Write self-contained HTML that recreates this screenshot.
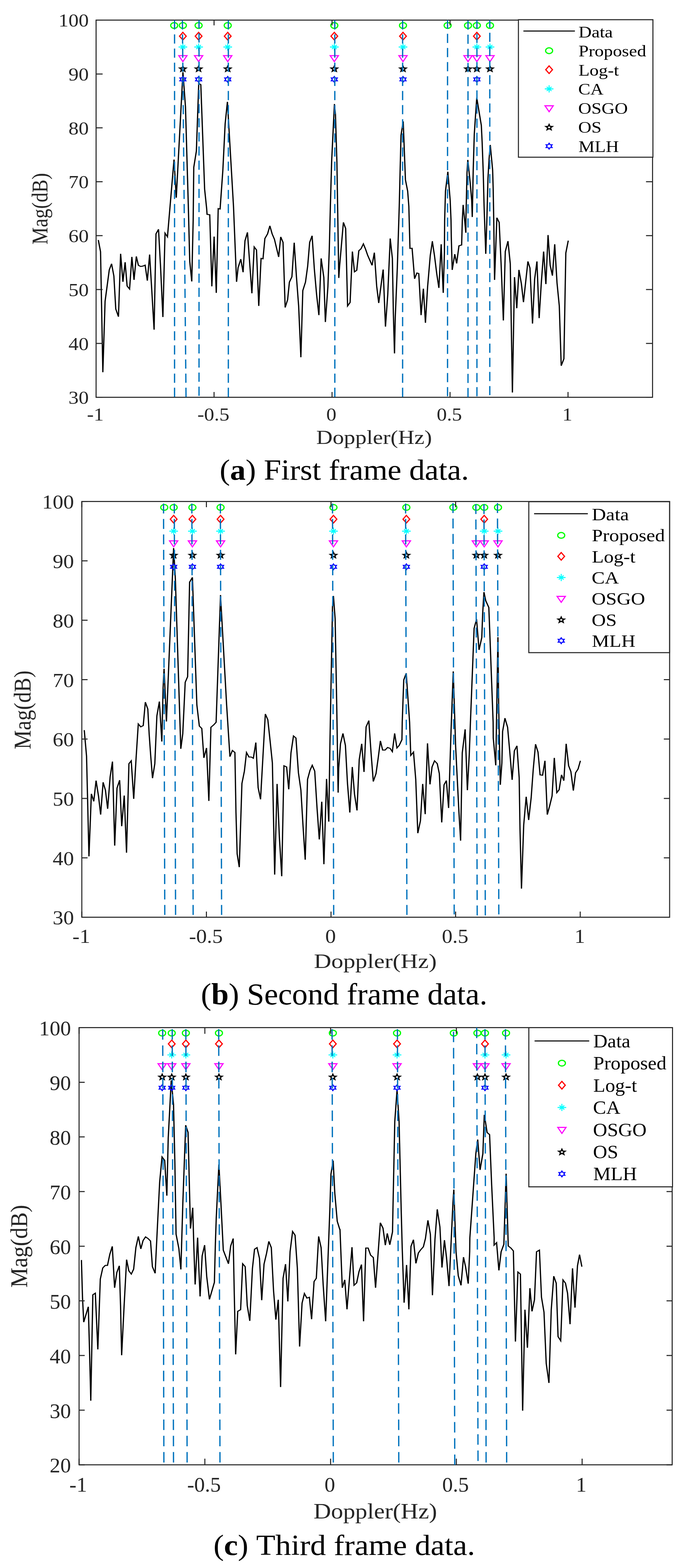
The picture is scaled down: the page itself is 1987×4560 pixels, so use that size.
<!DOCTYPE html>
<html><head><meta charset="utf-8"><title>Doppler spectrum detection results</title>
<style>
html,body{margin:0;padding:0;background:#fff;}
svg{display:block;}
text{font-family:"Liberation Serif",serif;font-kerning:none;font-variant-ligatures:none;}
</style></head>
<body>
<svg xmlns="http://www.w3.org/2000/svg" width="1987" height="4560" viewBox="0 0 1987 4560">
<rect x="0" y="0" width="1987" height="4560" fill="#fff"/>
<path transform="scale(1.22,1)" d="M234.43,698.0 L239.75,732.1 L245.25,1082.4 L250.57,876.3 L260.57,784.9 L266.07,767.1 L271.56,802.8 L276.07,898.6 L282.46,920.9 L287.62,738.1 L293.11,819.5 L298.36,762.7 L303.11,831.7 L309.02,840.6 L314.43,747.1 L319.59,813.9 L325.08,745.9 L330.00,771.6 L335.49,774.9 L340.90,773.8 L346.07,771.1 L351.31,816.1 L356.80,740.4 L361.97,845.1 L367.46,958.7 L371.97,680.2 L378.03,666.8 L382.95,778.3 L388.44,922.0 L393.52,678.0 L399.34,688.7 L415.00,464.1 L420.33,575.0 L436.23,210.0 L442.30,311.0 L449.10,600.0 L452.46,760.0 L457.30,818.4 L460.66,640.0 L462.05,486.9 L468.28,439.1 L473.93,242.7 L478.85,246.1 L487.95,550.1 L492.79,606.5 L493.77,623.4 L500.16,624.5 L505.16,832.8 L510.57,688.0 L515.74,851.8 L520.33,606.7 L524.84,607.8 L531.39,495.6 L536.89,360.0 L542.30,296.2 L556.80,600.0 L564.10,819.5 L567.79,778.3 L574.18,753.7 L579.67,791.6 L584.18,700.3 L590.08,675.8 L600.66,852.9 L606.15,718.1 L611.64,727.0 L617.05,889.7 L622.54,751.5 L627.13,752.6 L631.64,693.6 L638.03,680.2 L643.52,656.8 L648.93,680.2 L654.43,695.8 L664.51,747.1 L669.43,689.1 L674.92,704.7 L680.00,894.1 L685.82,871.8 L690.08,820.6 L696.07,805.0 L701.56,705.8 L706.89,805.0 L712.13,889.7 L717.46,1038.9 L722.05,845.1 L728.44,820.6 L733.69,773.8 L738.44,704.7 L744.26,685.8 L749.59,782.7 L754.92,856.2 L760.41,916.4 L765.82,751.5 L772.21,807.2 L775.90,936.5 L781.89,834.0 L785.25,724.8 L787.79,600.0 L790.82,470.0 L797.46,302.5 L799.92,333.3 L803.36,470.0 L805.08,600.0 L807.87,808.3 L809.67,776.0 L818.85,646.8 L824.26,664.6 L828.85,889.7 L834.84,879.6 L840.33,731.5 L845.25,790.5 L850.74,786.1 L855.66,729.2 L860.74,723.7 L866.56,709.2 L871.72,724.8 L876.80,742.6 L887.21,771.6 L892.70,734.8 L898.20,831.7 L903.11,881.2 L908.20,834.0 L913.69,783.8 L919.18,949.8 L924.67,856.2 L930.49,693.6 L935.66,751.5 L938.03,911.9 L940.74,1027.8 L942.54,923.1 L947.46,778.3 L952.05,600.0 L956.23,393.6 L961.48,353.0 L966.80,522.9 L972.13,556.0 L974.92,600.0 L977.62,722.5 L982.70,722.1 L988.61,810.6 L994.10,793.9 L998.61,795.6 L1004.10,916.4 L1009.59,839.5 L1014.51,938.7 L1019.67,834.0 L1026.07,742.6 L1030.98,702.5 L1030.90,701.4 L1035.98,742.6 L1041.48,796.1 L1046.56,837.3 L1052.05,710.3 L1054.26,778.3 L1056.97,851.8 L1059.75,733.7 L1060.33,640.1 L1062.30,555.7 L1067.95,499.5 L1073.52,583.0 L1075.49,640.1 L1076.15,689.1 L1078.36,784.9 L1084.43,739.3 L1088.93,766.0 L1094.43,714.8 L1100.82,712.5 L1102.46,640.1 L1104.43,595.8 L1107.05,627.9 L1110.90,676.9 L1110.98,640.1 L1113.61,502.7 L1115.57,465.0 L1121.48,534.8 L1124.84,583.0 L1126.15,631.1 L1128.44,494.7 L1130.98,390.4 L1134.02,334.3 L1136.89,284.5 L1147.79,364.8 L1149.75,414.5 L1152.38,502.7 L1154.34,599.0 L1158.36,738.1 L1160.98,640.1 L1163.61,518.8 L1166.23,462.6 L1169.10,421.7 L1174.75,494.7 L1176.07,550.9 L1177.38,640.1 L1179.34,813.9 L1184.84,633.4 L1190.33,646.8 L1194.92,767.1 L1200.33,932.0 L1204.92,731.5 L1211.31,701.4 L1216.80,767.1 L1221.89,1141.4 L1226.89,806.1 L1232.30,896.3 L1237.46,784.9 L1243.28,825.0 L1248.28,878.5 L1258.85,760.4 L1263.77,779.4 L1269.84,940.9 L1274.92,811.7 L1280.41,760.4 L1285.66,925.3 L1290.82,822.8 L1296.31,731.5 L1301.72,826.2 L1306.89,683.6 L1311.97,771.6 L1317.30,801.6 L1322.79,710.3 L1328.28,822.8 L1333.69,889.7 L1338.28,1063.5 L1344.67,1043.4 L1349.26,735.9 L1355.08,699.8" fill="none" stroke="#000" stroke-width="2.95" stroke-linejoin="miter" stroke-miterlimit="4"/>
<g transform="translate(506.8,74.12)"><ellipse cx="0" cy="0" rx="10.2" ry="8.4" fill="none" stroke="#00FF00" stroke-width="3.5"/></g>
<g transform="translate(532,74.12)"><ellipse cx="0" cy="0" rx="10.2" ry="8.4" fill="none" stroke="#00FF00" stroke-width="3.5"/></g>
<g transform="translate(532,105.46)"><polygon points="0,-11.4 9.8,-0.3 0,10.8 -9.8,-0.3" fill="none" stroke="#FF0000" stroke-width="3.4" stroke-linejoin="miter"/></g>
<g transform="translate(532,168.15)"><polygon points="-12.0,-6.4 12.0,-6.4 0,11" fill="none" stroke="#FF00FF" stroke-width="3.2" stroke-linejoin="miter" stroke-miterlimit="10"/></g>
<g transform="translate(532,136.8)"><path d="M-12.6,0H12.6M0,-10.4V10.4M-7.0,-5.9L7.0,5.9M-7.0,5.9L7.0,-5.9" fill="none" stroke="#00FFFF" stroke-width="2.9"/></g>
<g transform="translate(532,199.49)"><path d="M0.00,-11.80 L3.82,-3.45 L14.36,-2.96 L6.18,2.70 L8.88,11.36 L0.00,6.50 L-8.88,11.36 L-6.18,2.70 L-14.36,-2.96 L-3.82,-3.45Z M0.00,-3.10 L1.34,-0.74 L4.45,-0.41 L2.17,1.39 L2.75,3.96 L0.00,2.70 L-2.75,3.96 L-2.17,1.39 L-4.45,-0.41 L-1.34,-0.74Z" fill="#000" fill-rule="evenodd"/></g>
<g transform="translate(532,230.83)"><path d="M0.00,-11.20 L3.88,-5.60 L11.64,-5.60 L7.76,0.00 L11.64,5.60 L3.88,5.60 L0.00,11.20 L-3.88,5.60 L-11.64,5.60 L-7.76,0.00 L-11.64,-5.60 L-3.88,-5.60Z M0.00,-5.60 L1.94,-2.80 L5.82,-2.80 L3.88,0.00 L5.82,2.80 L1.94,2.80 L0.00,5.60 L-1.94,2.80 L-5.82,2.80 L-3.88,0.00 L-5.82,-2.80 L-1.94,-2.80Z" fill="#0000FF" fill-rule="evenodd"/></g>
<g transform="translate(577.8,74.12)"><ellipse cx="0" cy="0" rx="10.2" ry="8.4" fill="none" stroke="#00FF00" stroke-width="3.5"/></g>
<g transform="translate(577.8,105.46)"><polygon points="0,-11.4 9.8,-0.3 0,10.8 -9.8,-0.3" fill="none" stroke="#FF0000" stroke-width="3.4" stroke-linejoin="miter"/></g>
<g transform="translate(577.8,168.15)"><polygon points="-12.0,-6.4 12.0,-6.4 0,11" fill="none" stroke="#FF00FF" stroke-width="3.2" stroke-linejoin="miter" stroke-miterlimit="10"/></g>
<g transform="translate(577.8,136.8)"><path d="M-12.6,0H12.6M0,-10.4V10.4M-7.0,-5.9L7.0,5.9M-7.0,5.9L7.0,-5.9" fill="none" stroke="#00FFFF" stroke-width="2.9"/></g>
<g transform="translate(577.8,199.49)"><path d="M0.00,-11.80 L3.82,-3.45 L14.36,-2.96 L6.18,2.70 L8.88,11.36 L0.00,6.50 L-8.88,11.36 L-6.18,2.70 L-14.36,-2.96 L-3.82,-3.45Z M0.00,-3.10 L1.34,-0.74 L4.45,-0.41 L2.17,1.39 L2.75,3.96 L0.00,2.70 L-2.75,3.96 L-2.17,1.39 L-4.45,-0.41 L-1.34,-0.74Z" fill="#000" fill-rule="evenodd"/></g>
<g transform="translate(577.8,230.83)"><path d="M0.00,-11.20 L3.88,-5.60 L11.64,-5.60 L7.76,0.00 L11.64,5.60 L3.88,5.60 L0.00,11.20 L-3.88,5.60 L-11.64,5.60 L-7.76,0.00 L-11.64,-5.60 L-3.88,-5.60Z M0.00,-5.60 L1.94,-2.80 L5.82,-2.80 L3.88,0.00 L5.82,2.80 L1.94,2.80 L0.00,5.60 L-1.94,2.80 L-5.82,2.80 L-3.88,0.00 L-5.82,-2.80 L-1.94,-2.80Z" fill="#0000FF" fill-rule="evenodd"/></g>
<g transform="translate(662.5,74.12)"><ellipse cx="0" cy="0" rx="10.2" ry="8.4" fill="none" stroke="#00FF00" stroke-width="3.5"/></g>
<g transform="translate(662.5,105.46)"><polygon points="0,-11.4 9.8,-0.3 0,10.8 -9.8,-0.3" fill="none" stroke="#FF0000" stroke-width="3.4" stroke-linejoin="miter"/></g>
<g transform="translate(662.5,168.15)"><polygon points="-12.0,-6.4 12.0,-6.4 0,11" fill="none" stroke="#FF00FF" stroke-width="3.2" stroke-linejoin="miter" stroke-miterlimit="10"/></g>
<g transform="translate(662.5,136.8)"><path d="M-12.6,0H12.6M0,-10.4V10.4M-7.0,-5.9L7.0,5.9M-7.0,5.9L7.0,-5.9" fill="none" stroke="#00FFFF" stroke-width="2.9"/></g>
<g transform="translate(662.5,199.49)"><path d="M0.00,-11.80 L3.82,-3.45 L14.36,-2.96 L6.18,2.70 L8.88,11.36 L0.00,6.50 L-8.88,11.36 L-6.18,2.70 L-14.36,-2.96 L-3.82,-3.45Z M0.00,-3.10 L1.34,-0.74 L4.45,-0.41 L2.17,1.39 L2.75,3.96 L0.00,2.70 L-2.75,3.96 L-2.17,1.39 L-4.45,-0.41 L-1.34,-0.74Z" fill="#000" fill-rule="evenodd"/></g>
<g transform="translate(662.5,230.83)"><path d="M0.00,-11.20 L3.88,-5.60 L11.64,-5.60 L7.76,0.00 L11.64,5.60 L3.88,5.60 L0.00,11.20 L-3.88,5.60 L-11.64,5.60 L-7.76,0.00 L-11.64,-5.60 L-3.88,-5.60Z M0.00,-5.60 L1.94,-2.80 L5.82,-2.80 L3.88,0.00 L5.82,2.80 L1.94,2.80 L0.00,5.60 L-1.94,2.80 L-5.82,2.80 L-3.88,0.00 L-5.82,-2.80 L-1.94,-2.80Z" fill="#0000FF" fill-rule="evenodd"/></g>
<g transform="translate(972.6,74.12)"><ellipse cx="0" cy="0" rx="10.2" ry="8.4" fill="none" stroke="#00FF00" stroke-width="3.5"/></g>
<g transform="translate(972.6,105.46)"><polygon points="0,-11.4 9.8,-0.3 0,10.8 -9.8,-0.3" fill="none" stroke="#FF0000" stroke-width="3.4" stroke-linejoin="miter"/></g>
<g transform="translate(972.6,168.15)"><polygon points="-12.0,-6.4 12.0,-6.4 0,11" fill="none" stroke="#FF00FF" stroke-width="3.2" stroke-linejoin="miter" stroke-miterlimit="10"/></g>
<g transform="translate(972.6,136.8)"><path d="M-12.6,0H12.6M0,-10.4V10.4M-7.0,-5.9L7.0,5.9M-7.0,5.9L7.0,-5.9" fill="none" stroke="#00FFFF" stroke-width="2.9"/></g>
<g transform="translate(972.6,199.49)"><path d="M0.00,-11.80 L3.82,-3.45 L14.36,-2.96 L6.18,2.70 L8.88,11.36 L0.00,6.50 L-8.88,11.36 L-6.18,2.70 L-14.36,-2.96 L-3.82,-3.45Z M0.00,-3.10 L1.34,-0.74 L4.45,-0.41 L2.17,1.39 L2.75,3.96 L0.00,2.70 L-2.75,3.96 L-2.17,1.39 L-4.45,-0.41 L-1.34,-0.74Z" fill="#000" fill-rule="evenodd"/></g>
<g transform="translate(972.6,230.83)"><path d="M0.00,-11.20 L3.88,-5.60 L11.64,-5.60 L7.76,0.00 L11.64,5.60 L3.88,5.60 L0.00,11.20 L-3.88,5.60 L-11.64,5.60 L-7.76,0.00 L-11.64,-5.60 L-3.88,-5.60Z M0.00,-5.60 L1.94,-2.80 L5.82,-2.80 L3.88,0.00 L5.82,2.80 L1.94,2.80 L0.00,5.60 L-1.94,2.80 L-5.82,2.80 L-3.88,0.00 L-5.82,-2.80 L-1.94,-2.80Z" fill="#0000FF" fill-rule="evenodd"/></g>
<g transform="translate(1172.4,74.12)"><ellipse cx="0" cy="0" rx="10.2" ry="8.4" fill="none" stroke="#00FF00" stroke-width="3.5"/></g>
<g transform="translate(1172.4,105.46)"><polygon points="0,-11.4 9.8,-0.3 0,10.8 -9.8,-0.3" fill="none" stroke="#FF0000" stroke-width="3.4" stroke-linejoin="miter"/></g>
<g transform="translate(1172.4,168.15)"><polygon points="-12.0,-6.4 12.0,-6.4 0,11" fill="none" stroke="#FF00FF" stroke-width="3.2" stroke-linejoin="miter" stroke-miterlimit="10"/></g>
<g transform="translate(1172.4,136.8)"><path d="M-12.6,0H12.6M0,-10.4V10.4M-7.0,-5.9L7.0,5.9M-7.0,5.9L7.0,-5.9" fill="none" stroke="#00FFFF" stroke-width="2.9"/></g>
<g transform="translate(1172.4,199.49)"><path d="M0.00,-11.80 L3.82,-3.45 L14.36,-2.96 L6.18,2.70 L8.88,11.36 L0.00,6.50 L-8.88,11.36 L-6.18,2.70 L-14.36,-2.96 L-3.82,-3.45Z M0.00,-3.10 L1.34,-0.74 L4.45,-0.41 L2.17,1.39 L2.75,3.96 L0.00,2.70 L-2.75,3.96 L-2.17,1.39 L-4.45,-0.41 L-1.34,-0.74Z" fill="#000" fill-rule="evenodd"/></g>
<g transform="translate(1172.4,230.83)"><path d="M0.00,-11.20 L3.88,-5.60 L11.64,-5.60 L7.76,0.00 L11.64,5.60 L3.88,5.60 L0.00,11.20 L-3.88,5.60 L-11.64,5.60 L-7.76,0.00 L-11.64,-5.60 L-3.88,-5.60Z M0.00,-5.60 L1.94,-2.80 L5.82,-2.80 L3.88,0.00 L5.82,2.80 L1.94,2.80 L0.00,5.60 L-1.94,2.80 L-5.82,2.80 L-3.88,0.00 L-5.82,-2.80 L-1.94,-2.80Z" fill="#0000FF" fill-rule="evenodd"/></g>
<g transform="translate(1302.3,74.12)"><ellipse cx="0" cy="0" rx="10.2" ry="8.4" fill="none" stroke="#00FF00" stroke-width="3.5"/></g>
<g transform="translate(1361.6,74.12)"><ellipse cx="0" cy="0" rx="10.2" ry="8.4" fill="none" stroke="#00FF00" stroke-width="3.5"/></g>
<g transform="translate(1361.6,168.15)"><polygon points="-12.0,-6.4 12.0,-6.4 0,11" fill="none" stroke="#FF00FF" stroke-width="3.2" stroke-linejoin="miter" stroke-miterlimit="10"/></g>
<g transform="translate(1361.6,199.49)"><path d="M0.00,-11.80 L3.82,-3.45 L14.36,-2.96 L6.18,2.70 L8.88,11.36 L0.00,6.50 L-8.88,11.36 L-6.18,2.70 L-14.36,-2.96 L-3.82,-3.45Z M0.00,-3.10 L1.34,-0.74 L4.45,-0.41 L2.17,1.39 L2.75,3.96 L0.00,2.70 L-2.75,3.96 L-2.17,1.39 L-4.45,-0.41 L-1.34,-0.74Z" fill="#000" fill-rule="evenodd"/></g>
<g transform="translate(1387.3,74.12)"><ellipse cx="0" cy="0" rx="10.2" ry="8.4" fill="none" stroke="#00FF00" stroke-width="3.5"/></g>
<g transform="translate(1387.3,105.46)"><polygon points="0,-11.4 9.8,-0.3 0,10.8 -9.8,-0.3" fill="none" stroke="#FF0000" stroke-width="3.4" stroke-linejoin="miter"/></g>
<g transform="translate(1387.3,168.15)"><polygon points="-12.0,-6.4 12.0,-6.4 0,11" fill="none" stroke="#FF00FF" stroke-width="3.2" stroke-linejoin="miter" stroke-miterlimit="10"/></g>
<g transform="translate(1387.3,136.8)"><path d="M-12.6,0H12.6M0,-10.4V10.4M-7.0,-5.9L7.0,5.9M-7.0,5.9L7.0,-5.9" fill="none" stroke="#00FFFF" stroke-width="2.9"/></g>
<g transform="translate(1387.3,199.49)"><path d="M0.00,-11.80 L3.82,-3.45 L14.36,-2.96 L6.18,2.70 L8.88,11.36 L0.00,6.50 L-8.88,11.36 L-6.18,2.70 L-14.36,-2.96 L-3.82,-3.45Z M0.00,-3.10 L1.34,-0.74 L4.45,-0.41 L2.17,1.39 L2.75,3.96 L0.00,2.70 L-2.75,3.96 L-2.17,1.39 L-4.45,-0.41 L-1.34,-0.74Z" fill="#000" fill-rule="evenodd"/></g>
<g transform="translate(1387.3,230.83)"><path d="M0.00,-11.20 L3.88,-5.60 L11.64,-5.60 L7.76,0.00 L11.64,5.60 L3.88,5.60 L0.00,11.20 L-3.88,5.60 L-11.64,5.60 L-7.76,0.00 L-11.64,-5.60 L-3.88,-5.60Z M0.00,-5.60 L1.94,-2.80 L5.82,-2.80 L3.88,0.00 L5.82,2.80 L1.94,2.80 L0.00,5.60 L-1.94,2.80 L-5.82,2.80 L-3.88,0.00 L-5.82,-2.80 L-1.94,-2.80Z" fill="#0000FF" fill-rule="evenodd"/></g>
<g transform="translate(1425.5,74.12)"><ellipse cx="0" cy="0" rx="10.2" ry="8.4" fill="none" stroke="#00FF00" stroke-width="3.5"/></g>
<g transform="translate(1425.5,136.8)"><path d="M-12.6,0H12.6M0,-10.4V10.4M-7.0,-5.9L7.0,5.9M-7.0,5.9L7.0,-5.9" fill="none" stroke="#00FFFF" stroke-width="2.9"/></g>
<g transform="translate(1425.5,168.15)"><polygon points="-12.0,-6.4 12.0,-6.4 0,11" fill="none" stroke="#FF00FF" stroke-width="3.2" stroke-linejoin="miter" stroke-miterlimit="10"/></g>
<g transform="translate(1425.5,199.49)"><path d="M0.00,-11.80 L3.82,-3.45 L14.36,-2.96 L6.18,2.70 L8.88,11.36 L0.00,6.50 L-8.88,11.36 L-6.18,2.70 L-14.36,-2.96 L-3.82,-3.45Z M0.00,-3.10 L1.34,-0.74 L4.45,-0.41 L2.17,1.39 L2.75,3.96 L0.00,2.70 L-2.75,3.96 L-2.17,1.39 L-4.45,-0.41 L-1.34,-0.74Z" fill="#000" fill-rule="evenodd"/></g>
<rect x="279.55" y="58.45" width="1618.85" height="1096.95" fill="none" stroke="#262626" stroke-width="3.0"/>
<path d="M279.5,1155.4V1140.1M279.5,58.45V73.75M622.75,1155.4V1140.1M622.75,58.45V73.75M966,1155.4V1140.1M966,58.45V73.75M1309.25,1155.4V1140.1M1309.25,58.45V73.75M1652.5,1155.4V1140.1M1652.5,58.45V73.75M279.55,1155.4H298.55M1898.4,1155.4H1879.4M279.55,998.69H298.55M1898.4,998.69H1879.4M279.55,841.99H298.55M1898.4,841.99H1879.4M279.55,685.28H298.55M1898.4,685.28H1879.4M279.55,528.57H298.55M1898.4,528.57H1879.4M279.55,371.86H298.55M1898.4,371.86H1879.4M279.55,215.16H298.55M1898.4,215.16H1879.4M279.55,58.45H298.55M1898.4,58.45H1879.4" stroke="#262626" stroke-width="3.0" fill="none"/>
<line transform="scale(1.25,1)" x1="406.24" y1="58.45" x2="406.24" y2="1155.4" stroke="#0072BD" stroke-width="3.0" stroke-dasharray="26.7 14.4" stroke-dashoffset="40.6"/>
<line transform="scale(1.25,1)" x1="424.48" y1="58.45" x2="432.96" y2="1155.4" stroke="#0072BD" stroke-width="3.0" stroke-dasharray="26.7 14.4" stroke-dashoffset="40.6"/>
<line transform="scale(1.25,1)" x1="463.20" y1="58.45" x2="463.20" y2="1155.4" stroke="#0072BD" stroke-width="3.0" stroke-dasharray="26.7 14.4" stroke-dashoffset="43.6"/>
<line transform="scale(1.25,1)" x1="531.44" y1="58.45" x2="531.44" y2="1155.4" stroke="#0072BD" stroke-width="3.0" stroke-dasharray="26.7 14.4" stroke-dashoffset="40.6"/>
<line transform="scale(1.25,1)" x1="779.20" y1="58.45" x2="779.28" y2="1155.4" stroke="#0072BD" stroke-width="3.0" stroke-dasharray="26.7 14.4" stroke-dashoffset="40.6"/>
<line transform="scale(1.25,1)" x1="937.04" y1="58.45" x2="937.04" y2="1155.4" stroke="#0072BD" stroke-width="3.0" stroke-dasharray="26.7 14.4" stroke-dashoffset="40.6"/>
<line transform="scale(1.25,1)" x1="1041.60" y1="58.45" x2="1041.60" y2="1155.4" stroke="#0072BD" stroke-width="3.0" stroke-dasharray="26.7 14.4" stroke-dashoffset="42.3"/>
<line transform="scale(1.25,1)" x1="1089.20" y1="58.45" x2="1089.20" y2="1155.4" stroke="#0072BD" stroke-width="3.0" stroke-dasharray="26.7 14.4" stroke-dashoffset="39.9"/>
<line transform="scale(1.25,1)" x1="1110.00" y1="58.45" x2="1110.00" y2="1155.4" stroke="#0072BD" stroke-width="3.0" stroke-dasharray="26.7 14.4" stroke-dashoffset="42.3"/>
<line transform="scale(1.25,1)" x1="1139.92" y1="58.45" x2="1139.92" y2="1155.4" stroke="#0072BD" stroke-width="3.0" stroke-dasharray="26.7 14.4" stroke-dashoffset="45.5"/>
<g fill="#262626">
<text transform="translate(258.24,1174.26) scale(1.1050,1)" font-size="53.30" text-anchor="end">30</text>
<text transform="translate(258.24,1017.55) scale(1.1050,1)" font-size="53.30" text-anchor="end">40</text>
<text transform="translate(258.24,860.85) scale(1.1050,1)" font-size="53.30" text-anchor="end">50</text>
<text transform="translate(258.24,704.14) scale(1.1050,1)" font-size="53.30" text-anchor="end">60</text>
<text transform="translate(258.24,547.43) scale(1.1050,1)" font-size="53.30" text-anchor="end">70</text>
<text transform="translate(258.24,390.72) scale(1.1050,1)" font-size="53.30" text-anchor="end">80</text>
<text transform="translate(258.24,234.02) scale(1.1050,1)" font-size="53.30" text-anchor="end">90</text>
<text transform="translate(258.24,77.31) scale(1.1050,1)" font-size="53.30" text-anchor="end">100</text>
<text transform="translate(277.5,1223.2) scale(1.1050,1)" font-size="53.30" text-anchor="middle">-1</text>
<text transform="translate(620.75,1223.2) scale(1.1050,1)" font-size="53.30" text-anchor="middle">-0.5</text>
<text transform="translate(964,1223.2) scale(1.1050,1)" font-size="53.30" text-anchor="middle">0</text>
<text transform="translate(1307.25,1223.2) scale(1.1050,1)" font-size="53.30" text-anchor="middle">0.5</text>
<text transform="translate(1650.5,1223.2) scale(1.1050,1)" font-size="53.30" text-anchor="middle">1</text>
<text transform="translate(138.16,711.24) rotate(-90) scale(0.8665,1)" font-size="65.52">Mag(dB)</text>
<text transform="translate(920.1,1290.77) scale(1.1763,1)" font-size="56.02">Doppler(Hz)</text>
</g>
<rect x="1508.2" y="57.3" width="391.3" height="399.9" fill="#fff" stroke="#262626" stroke-width="3.0"/>
<line x1="1522.7" y1="90.2" x2="1672.5" y2="90.2" stroke="#000" stroke-width="3"/>
<text transform="translate(1682.98,108.5) scale(1.1500,1)" font-size="46.00" fill="#000">Data</text>
<text transform="translate(1682.98,164) scale(1.1500,1)" font-size="46.00" fill="#000">Proposed</text>
<g transform="translate(1597.5,147.5)"><ellipse cx="0" cy="0" rx="10.2" ry="8.4" fill="none" stroke="#00FF00" stroke-width="3.5"/></g>
<text transform="translate(1682.98,219.5) scale(1.1500,1)" font-size="46.00" fill="#000">Log-t</text>
<g transform="translate(1597.5,203)"><polygon points="0,-11.4 9.8,-0.3 0,10.8 -9.8,-0.3" fill="none" stroke="#FF0000" stroke-width="3.4" stroke-linejoin="miter"/></g>
<text transform="translate(1682.33,275) scale(1.1500,1)" font-size="46.00" fill="#000">CA</text>
<g transform="translate(1597.5,258.5)"><path d="M-12.6,0H12.6M0,-10.4V10.4M-7.0,-5.9L7.0,5.9M-7.0,5.9L7.0,-5.9" fill="none" stroke="#00FFFF" stroke-width="2.9"/></g>
<text transform="translate(1682.33,330.5) scale(1.1500,1)" font-size="46.00" fill="#000">OSGO</text>
<g transform="translate(1597.5,314)"><polygon points="-12.0,-6.4 12.0,-6.4 0,11" fill="none" stroke="#FF00FF" stroke-width="3.2" stroke-linejoin="miter" stroke-miterlimit="10"/></g>
<text transform="translate(1682.33,386) scale(1.1500,1)" font-size="46.00" fill="#000">OS</text>
<g transform="translate(1597.5,369.5)"><path d="M0.00,-11.80 L3.82,-3.45 L14.36,-2.96 L6.18,2.70 L8.88,11.36 L0.00,6.50 L-8.88,11.36 L-6.18,2.70 L-14.36,-2.96 L-3.82,-3.45Z M0.00,-3.10 L1.34,-0.74 L4.45,-0.41 L2.17,1.39 L2.75,3.96 L0.00,2.70 L-2.75,3.96 L-2.17,1.39 L-4.45,-0.41 L-1.34,-0.74Z" fill="#000" fill-rule="evenodd"/></g>
<text transform="translate(1682.98,441.5) scale(1.1500,1)" font-size="46.00" fill="#000">MLH</text>
<g transform="translate(1597.5,425)"><path d="M0.00,-11.20 L3.88,-5.60 L11.64,-5.60 L7.76,0.00 L11.64,5.60 L3.88,5.60 L0.00,11.20 L-3.88,5.60 L-11.64,5.60 L-7.76,0.00 L-11.64,-5.60 L-3.88,-5.60Z M0.00,-5.60 L1.94,-2.80 L5.82,-2.80 L3.88,0.00 L5.82,2.80 L1.94,2.80 L0.00,5.60 L-1.94,2.80 L-5.82,2.80 L-3.88,0.00 L-5.82,-2.80 L-1.94,-2.80Z" fill="#0000FF" fill-rule="evenodd"/></g>
<text transform="translate(639.01,1395.41) scale(1.0676,1)" font-size="84.95" fill="#000">(<tspan font-weight="bold">a</tspan>) First frame data.</text>
<path transform="scale(1.22,1)" d="M200.90,2123.4 L206.39,2199.2 L212.13,2490.4 L217.87,2308.7 L223.61,2330.4 L229.10,2270.2 L234.84,2314.7 L240.00,2368.9 L245.90,2275.0 L251.39,2297.9 L256.72,2352.0 L262.62,2259.4 L268.20,2214.9 L273.52,2459.1 L279.02,2291.9 L285.33,2269.0 L290.25,2402.6 L296.23,2313.5 L301.72,2479.6 L307.46,2220.9 L312.95,2212.5 L318.85,2323.2 L324.43,2206.4 L329.75,2105.4 L335.66,2113.8 L341.56,2110.2 L346.56,2042.0 L352.46,2062.0 L355.74,2135.7 L359.51,2200.0 L363.69,2263.0 L369.18,2220.9 L374.10,2081.8 L380.08,2040.2 L385.90,2156.5 L388.93,2000.0 L391.23,1944.7 L396.89,2098.3 L414.02,1594.0 L418.20,1685.0 L431.15,2177.6 L435.82,2134.2 L441.64,1984.3 L447.38,1968.0 L452.13,1693.2 L458.85,1679.2 L469.43,2050.0 L475.33,2111.4 L481.23,2118.6 L486.15,2204.0 L492.46,2175.2 L498.03,2329.2 L502.95,2115.0 L509.84,2107.8 L515.33,2100.5 L525.82,1730.5 L540.41,2050.0 L548.28,2200.4 L554.18,2182.4 L560.16,2188.4 L562.70,2362.9 L565.49,2483.2 L570.57,2521.7 L576.89,2278.6 L582.79,2242.5 L587.79,2188.4 L593.69,2201.6 L599.18,2201.6 L604.10,2205.2 L610.08,2159.5 L615.57,2290.7 L621.31,2324.4 L627.05,2199.2 L632.70,2076.5 L638.69,2093.3 L644.18,2155.9 L649.51,2218.5 L655.00,2543.4 L660.74,2279.8 L666.23,2435.1 L671.80,2548.2 L677.13,2226.9 L683.44,2230.5 L688.52,2295.5 L693.85,2189.6 L699.84,2140.3 L705.74,2146.3 L711.64,2247.4 L717.54,2297.9 L722.46,2399.0 L727.79,2500.1 L733.36,2266.6 L739.26,2240.1 L744.59,2225.7 L750.49,2242.5 L756.07,2350.8 L761.39,2441.1 L767.30,2331.6 L772.38,2513.3 L778.69,2265.4 L784.02,2389.4 L786.64,2170.3 L792.87,1765.0 L795.08,1733.0 L799.18,1800.0 L802.95,2050.0 L806.31,2305.1 L807.70,2232.9 L811.89,2163.1 L817.79,2133.0 L823.69,2167.9 L828.61,2278.6 L834.18,2362.9 L840.08,2230.5 L845.41,2309.9 L851.31,2356.9 L856.64,2208.8 L862.54,2163.1 L868.03,2244.9 L873.03,2113.8 L879.51,2095.7 L884.84,2189.6 L890.16,2272.6 L896.64,2249.8 L901.64,2206.4 L907.13,2154.7 L912.46,2181.2 L918.36,2181.2 L924.26,2173.9 L930.25,2176.4 L935.57,2186.0 L941.07,2133.0 L946.56,2175.2 L951.89,2167.9 L958.44,2151.1 L959.18,2100.0 L962.79,1977.5 L968.69,1957.9 L976.72,2100.0 L979.51,2196.8 L986.07,2187.2 L991.39,2266.6 L996.31,2423.0 L1002.62,2386.9 L1007.95,2279.8 L1013.93,2367.7 L1016.48,2266.6 L1019.43,2161.9 L1025.33,2281.0 L1030.25,2230.5 L1036.23,2212.5 L1042.70,2220.9 L1047.62,2249.8 L1053.36,2391.8 L1058.85,2282.3 L1064.43,2270.2 L1069.75,2349.6 L1075.66,2122.2 L1080.82,1952.5 L1086.48,2170.3 L1094.43,2362.9 L1098.36,2444.7 L1102.30,2189.6 L1109.18,2121.0 L1114.51,2297.9 L1119.02,2194.4 L1121.80,2100.0 L1130.57,1827.5 L1136.39,1800.7 L1142.30,1890.0 L1148.85,1854.3 L1151.07,1782.9 L1154.02,1722.1 L1158.36,1747.1 L1165.66,1766.8 L1167.87,1836.4 L1175.90,2100.0 L1176.23,2146.3 L1182.21,2225.7 L1187.38,1853.0 L1189.10,2050.0 L1193.03,2282.3 L1196.80,2218.5 L1198.52,2127.0 L1204.10,2088.5 L1210.41,2115.0 L1215.33,2182.4 L1221.23,2267.8 L1226.56,2183.6 L1232.70,2169.1 L1238.03,2261.8 L1240.00,2411.0 L1243.52,2584.3 L1248.85,2399.0 L1254.75,2317.1 L1260.66,2384.5 L1266.64,2319.6 L1271.56,2237.7 L1277.05,2164.3 L1282.95,2187.2 L1287.87,2253.4 L1293.85,2254.6 L1299.51,2212.5 L1305.08,2368.9 L1310.98,2342.4 L1316.48,2314.7 L1321.80,2204.0 L1327.79,2305.1 L1333.28,2296.7 L1339.02,2253.4 L1344.51,2270.2 L1350.08,2163.1 L1355.98,2226.9 L1361.31,2243.7 L1367.21,2299.1 L1372.54,2247.4 L1378.44,2236.5 L1384.02,2212.5" fill="none" stroke="#000" stroke-width="2.95" stroke-linejoin="miter" stroke-miterlimit="4"/>
<g transform="translate(477.9,1475.67)"><ellipse cx="0" cy="0" rx="10.2" ry="8.4" fill="none" stroke="#00FF00" stroke-width="3.5"/></g>
<g transform="translate(505.2,1475.67)"><ellipse cx="0" cy="0" rx="10.2" ry="8.4" fill="none" stroke="#00FF00" stroke-width="3.5"/></g>
<g transform="translate(505.2,1510.22)"><polygon points="0,-11.4 9.8,-0.3 0,10.8 -9.8,-0.3" fill="none" stroke="#FF0000" stroke-width="3.4" stroke-linejoin="miter"/></g>
<g transform="translate(505.2,1579.31)"><polygon points="-12.0,-6.4 12.0,-6.4 0,11" fill="none" stroke="#FF00FF" stroke-width="3.2" stroke-linejoin="miter" stroke-miterlimit="10"/></g>
<g transform="translate(505.2,1544.76)"><path d="M-12.6,0H12.6M0,-10.4V10.4M-7.0,-5.9L7.0,5.9M-7.0,5.9L7.0,-5.9" fill="none" stroke="#00FFFF" stroke-width="2.9"/></g>
<g transform="translate(505.2,1613.85)"><path d="M0.00,-11.80 L3.82,-3.45 L14.36,-2.96 L6.18,2.70 L8.88,11.36 L0.00,6.50 L-8.88,11.36 L-6.18,2.70 L-14.36,-2.96 L-3.82,-3.45Z M0.00,-3.10 L1.34,-0.74 L4.45,-0.41 L2.17,1.39 L2.75,3.96 L0.00,2.70 L-2.75,3.96 L-2.17,1.39 L-4.45,-0.41 L-1.34,-0.74Z" fill="#000" fill-rule="evenodd"/></g>
<g transform="translate(505.2,1648.39)"><path d="M0.00,-11.20 L3.88,-5.60 L11.64,-5.60 L7.76,0.00 L11.64,5.60 L3.88,5.60 L0.00,11.20 L-3.88,5.60 L-11.64,5.60 L-7.76,0.00 L-11.64,-5.60 L-3.88,-5.60Z M0.00,-5.60 L1.94,-2.80 L5.82,-2.80 L3.88,0.00 L5.82,2.80 L1.94,2.80 L0.00,5.60 L-1.94,2.80 L-5.82,2.80 L-3.88,0.00 L-5.82,-2.80 L-1.94,-2.80Z" fill="#0000FF" fill-rule="evenodd"/></g>
<g transform="translate(559.8,1475.67)"><ellipse cx="0" cy="0" rx="10.2" ry="8.4" fill="none" stroke="#00FF00" stroke-width="3.5"/></g>
<g transform="translate(559.8,1510.22)"><polygon points="0,-11.4 9.8,-0.3 0,10.8 -9.8,-0.3" fill="none" stroke="#FF0000" stroke-width="3.4" stroke-linejoin="miter"/></g>
<g transform="translate(559.8,1579.31)"><polygon points="-12.0,-6.4 12.0,-6.4 0,11" fill="none" stroke="#FF00FF" stroke-width="3.2" stroke-linejoin="miter" stroke-miterlimit="10"/></g>
<g transform="translate(559.8,1544.76)"><path d="M-12.6,0H12.6M0,-10.4V10.4M-7.0,-5.9L7.0,5.9M-7.0,5.9L7.0,-5.9" fill="none" stroke="#00FFFF" stroke-width="2.9"/></g>
<g transform="translate(559.8,1613.85)"><path d="M0.00,-11.80 L3.82,-3.45 L14.36,-2.96 L6.18,2.70 L8.88,11.36 L0.00,6.50 L-8.88,11.36 L-6.18,2.70 L-14.36,-2.96 L-3.82,-3.45Z M0.00,-3.10 L1.34,-0.74 L4.45,-0.41 L2.17,1.39 L2.75,3.96 L0.00,2.70 L-2.75,3.96 L-2.17,1.39 L-4.45,-0.41 L-1.34,-0.74Z" fill="#000" fill-rule="evenodd"/></g>
<g transform="translate(559.8,1648.39)"><path d="M0.00,-11.20 L3.88,-5.60 L11.64,-5.60 L7.76,0.00 L11.64,5.60 L3.88,5.60 L0.00,11.20 L-3.88,5.60 L-11.64,5.60 L-7.76,0.00 L-11.64,-5.60 L-3.88,-5.60Z M0.00,-5.60 L1.94,-2.80 L5.82,-2.80 L3.88,0.00 L5.82,2.80 L1.94,2.80 L0.00,5.60 L-1.94,2.80 L-5.82,2.80 L-3.88,0.00 L-5.82,-2.80 L-1.94,-2.80Z" fill="#0000FF" fill-rule="evenodd"/></g>
<g transform="translate(641.7,1475.67)"><ellipse cx="0" cy="0" rx="10.2" ry="8.4" fill="none" stroke="#00FF00" stroke-width="3.5"/></g>
<g transform="translate(641.7,1510.22)"><polygon points="0,-11.4 9.8,-0.3 0,10.8 -9.8,-0.3" fill="none" stroke="#FF0000" stroke-width="3.4" stroke-linejoin="miter"/></g>
<g transform="translate(641.7,1579.31)"><polygon points="-12.0,-6.4 12.0,-6.4 0,11" fill="none" stroke="#FF00FF" stroke-width="3.2" stroke-linejoin="miter" stroke-miterlimit="10"/></g>
<g transform="translate(641.7,1544.76)"><path d="M-12.6,0H12.6M0,-10.4V10.4M-7.0,-5.9L7.0,5.9M-7.0,5.9L7.0,-5.9" fill="none" stroke="#00FFFF" stroke-width="2.9"/></g>
<g transform="translate(641.7,1613.85)"><path d="M0.00,-11.80 L3.82,-3.45 L14.36,-2.96 L6.18,2.70 L8.88,11.36 L0.00,6.50 L-8.88,11.36 L-6.18,2.70 L-14.36,-2.96 L-3.82,-3.45Z M0.00,-3.10 L1.34,-0.74 L4.45,-0.41 L2.17,1.39 L2.75,3.96 L0.00,2.70 L-2.75,3.96 L-2.17,1.39 L-4.45,-0.41 L-1.34,-0.74Z" fill="#000" fill-rule="evenodd"/></g>
<g transform="translate(641.7,1648.39)"><path d="M0.00,-11.20 L3.88,-5.60 L11.64,-5.60 L7.76,0.00 L11.64,5.60 L3.88,5.60 L0.00,11.20 L-3.88,5.60 L-11.64,5.60 L-7.76,0.00 L-11.64,-5.60 L-3.88,-5.60Z M0.00,-5.60 L1.94,-2.80 L5.82,-2.80 L3.88,0.00 L5.82,2.80 L1.94,2.80 L0.00,5.60 L-1.94,2.80 L-5.82,2.80 L-3.88,0.00 L-5.82,-2.80 L-1.94,-2.80Z" fill="#0000FF" fill-rule="evenodd"/></g>
<g transform="translate(970.1,1475.67)"><ellipse cx="0" cy="0" rx="10.2" ry="8.4" fill="none" stroke="#00FF00" stroke-width="3.5"/></g>
<g transform="translate(970.1,1510.22)"><polygon points="0,-11.4 9.8,-0.3 0,10.8 -9.8,-0.3" fill="none" stroke="#FF0000" stroke-width="3.4" stroke-linejoin="miter"/></g>
<g transform="translate(970.1,1579.31)"><polygon points="-12.0,-6.4 12.0,-6.4 0,11" fill="none" stroke="#FF00FF" stroke-width="3.2" stroke-linejoin="miter" stroke-miterlimit="10"/></g>
<g transform="translate(970.1,1544.76)"><path d="M-12.6,0H12.6M0,-10.4V10.4M-7.0,-5.9L7.0,5.9M-7.0,5.9L7.0,-5.9" fill="none" stroke="#00FFFF" stroke-width="2.9"/></g>
<g transform="translate(970.1,1613.85)"><path d="M0.00,-11.80 L3.82,-3.45 L14.36,-2.96 L6.18,2.70 L8.88,11.36 L0.00,6.50 L-8.88,11.36 L-6.18,2.70 L-14.36,-2.96 L-3.82,-3.45Z M0.00,-3.10 L1.34,-0.74 L4.45,-0.41 L2.17,1.39 L2.75,3.96 L0.00,2.70 L-2.75,3.96 L-2.17,1.39 L-4.45,-0.41 L-1.34,-0.74Z" fill="#000" fill-rule="evenodd"/></g>
<g transform="translate(970.1,1648.39)"><path d="M0.00,-11.20 L3.88,-5.60 L11.64,-5.60 L7.76,0.00 L11.64,5.60 L3.88,5.60 L0.00,11.20 L-3.88,5.60 L-11.64,5.60 L-7.76,0.00 L-11.64,-5.60 L-3.88,-5.60Z M0.00,-5.60 L1.94,-2.80 L5.82,-2.80 L3.88,0.00 L5.82,2.80 L1.94,2.80 L0.00,5.60 L-1.94,2.80 L-5.82,2.80 L-3.88,0.00 L-5.82,-2.80 L-1.94,-2.80Z" fill="#0000FF" fill-rule="evenodd"/></g>
<g transform="translate(1182.2,1475.67)"><ellipse cx="0" cy="0" rx="10.2" ry="8.4" fill="none" stroke="#00FF00" stroke-width="3.5"/></g>
<g transform="translate(1182.2,1510.22)"><polygon points="0,-11.4 9.8,-0.3 0,10.8 -9.8,-0.3" fill="none" stroke="#FF0000" stroke-width="3.4" stroke-linejoin="miter"/></g>
<g transform="translate(1182.2,1579.31)"><polygon points="-12.0,-6.4 12.0,-6.4 0,11" fill="none" stroke="#FF00FF" stroke-width="3.2" stroke-linejoin="miter" stroke-miterlimit="10"/></g>
<g transform="translate(1182.2,1544.76)"><path d="M-12.6,0H12.6M0,-10.4V10.4M-7.0,-5.9L7.0,5.9M-7.0,5.9L7.0,-5.9" fill="none" stroke="#00FFFF" stroke-width="2.9"/></g>
<g transform="translate(1182.2,1613.85)"><path d="M0.00,-11.80 L3.82,-3.45 L14.36,-2.96 L6.18,2.70 L8.88,11.36 L0.00,6.50 L-8.88,11.36 L-6.18,2.70 L-14.36,-2.96 L-3.82,-3.45Z M0.00,-3.10 L1.34,-0.74 L4.45,-0.41 L2.17,1.39 L2.75,3.96 L0.00,2.70 L-2.75,3.96 L-2.17,1.39 L-4.45,-0.41 L-1.34,-0.74Z" fill="#000" fill-rule="evenodd"/></g>
<g transform="translate(1182.2,1648.39)"><path d="M0.00,-11.20 L3.88,-5.60 L11.64,-5.60 L7.76,0.00 L11.64,5.60 L3.88,5.60 L0.00,11.20 L-3.88,5.60 L-11.64,5.60 L-7.76,0.00 L-11.64,-5.60 L-3.88,-5.60Z M0.00,-5.60 L1.94,-2.80 L5.82,-2.80 L3.88,0.00 L5.82,2.80 L1.94,2.80 L0.00,5.60 L-1.94,2.80 L-5.82,2.80 L-3.88,0.00 L-5.82,-2.80 L-1.94,-2.80Z" fill="#0000FF" fill-rule="evenodd"/></g>
<g transform="translate(1318.9,1475.67)"><ellipse cx="0" cy="0" rx="10.2" ry="8.4" fill="none" stroke="#00FF00" stroke-width="3.5"/></g>
<g transform="translate(1385.8,1475.67)"><ellipse cx="0" cy="0" rx="10.2" ry="8.4" fill="none" stroke="#00FF00" stroke-width="3.5"/></g>
<g transform="translate(1385.8,1579.31)"><polygon points="-12.0,-6.4 12.0,-6.4 0,11" fill="none" stroke="#FF00FF" stroke-width="3.2" stroke-linejoin="miter" stroke-miterlimit="10"/></g>
<g transform="translate(1385.8,1613.85)"><path d="M0.00,-11.80 L3.82,-3.45 L14.36,-2.96 L6.18,2.70 L8.88,11.36 L0.00,6.50 L-8.88,11.36 L-6.18,2.70 L-14.36,-2.96 L-3.82,-3.45Z M0.00,-3.10 L1.34,-0.74 L4.45,-0.41 L2.17,1.39 L2.75,3.96 L0.00,2.70 L-2.75,3.96 L-2.17,1.39 L-4.45,-0.41 L-1.34,-0.74Z" fill="#000" fill-rule="evenodd"/></g>
<g transform="translate(1408.7,1475.67)"><ellipse cx="0" cy="0" rx="10.2" ry="8.4" fill="none" stroke="#00FF00" stroke-width="3.5"/></g>
<g transform="translate(1408.7,1510.22)"><polygon points="0,-11.4 9.8,-0.3 0,10.8 -9.8,-0.3" fill="none" stroke="#FF0000" stroke-width="3.4" stroke-linejoin="miter"/></g>
<g transform="translate(1408.7,1579.31)"><polygon points="-12.0,-6.4 12.0,-6.4 0,11" fill="none" stroke="#FF00FF" stroke-width="3.2" stroke-linejoin="miter" stroke-miterlimit="10"/></g>
<g transform="translate(1408.7,1544.76)"><path d="M-12.6,0H12.6M0,-10.4V10.4M-7.0,-5.9L7.0,5.9M-7.0,5.9L7.0,-5.9" fill="none" stroke="#00FFFF" stroke-width="2.9"/></g>
<g transform="translate(1408.7,1613.85)"><path d="M0.00,-11.80 L3.82,-3.45 L14.36,-2.96 L6.18,2.70 L8.88,11.36 L0.00,6.50 L-8.88,11.36 L-6.18,2.70 L-14.36,-2.96 L-3.82,-3.45Z M0.00,-3.10 L1.34,-0.74 L4.45,-0.41 L2.17,1.39 L2.75,3.96 L0.00,2.70 L-2.75,3.96 L-2.17,1.39 L-4.45,-0.41 L-1.34,-0.74Z" fill="#000" fill-rule="evenodd"/></g>
<g transform="translate(1408.7,1648.39)"><path d="M0.00,-11.20 L3.88,-5.60 L11.64,-5.60 L7.76,0.00 L11.64,5.60 L3.88,5.60 L0.00,11.20 L-3.88,5.60 L-11.64,5.60 L-7.76,0.00 L-11.64,-5.60 L-3.88,-5.60Z M0.00,-5.60 L1.94,-2.80 L5.82,-2.80 L3.88,0.00 L5.82,2.80 L1.94,2.80 L0.00,5.60 L-1.94,2.80 L-5.82,2.80 L-3.88,0.00 L-5.82,-2.80 L-1.94,-2.80Z" fill="#0000FF" fill-rule="evenodd"/></g>
<g transform="translate(1448.8,1475.67)"><ellipse cx="0" cy="0" rx="10.2" ry="8.4" fill="none" stroke="#00FF00" stroke-width="3.5"/></g>
<g transform="translate(1448.8,1544.76)"><path d="M-12.6,0H12.6M0,-10.4V10.4M-7.0,-5.9L7.0,5.9M-7.0,5.9L7.0,-5.9" fill="none" stroke="#00FFFF" stroke-width="2.9"/></g>
<g transform="translate(1448.8,1579.31)"><polygon points="-12.0,-6.4 12.0,-6.4 0,11" fill="none" stroke="#FF00FF" stroke-width="3.2" stroke-linejoin="miter" stroke-miterlimit="10"/></g>
<g transform="translate(1448.8,1613.85)"><path d="M0.00,-11.80 L3.82,-3.45 L14.36,-2.96 L6.18,2.70 L8.88,11.36 L0.00,6.50 L-8.88,11.36 L-6.18,2.70 L-14.36,-2.96 L-3.82,-3.45Z M0.00,-3.10 L1.34,-0.74 L4.45,-0.41 L2.17,1.39 L2.75,3.96 L0.00,2.70 L-2.75,3.96 L-2.17,1.39 L-4.45,-0.41 L-1.34,-0.74Z" fill="#000" fill-rule="evenodd"/></g>
<rect x="238" y="1458.4" width="1710.05" height="1209.05" fill="none" stroke="#262626" stroke-width="3.0"/>
<path d="M238,2667.45V2650.95M238,1458.4V1474.9M600.5,2667.45V2650.95M600.5,1458.4V1474.9M963,2667.45V2650.95M963,1458.4V1474.9M1325.5,2667.45V2650.95M1325.5,1458.4V1474.9M1688,2667.45V2650.95M1688,1458.4V1474.9M238,2667.45H254.8M1948.05,2667.45H1931.25M238,2494.73H254.8M1948.05,2494.73H1931.25M238,2322.01H254.8M1948.05,2322.01H1931.25M238,2149.29H254.8M1948.05,2149.29H1931.25M238,1976.56H254.8M1948.05,1976.56H1931.25M238,1803.84H254.8M1948.05,1803.84H1931.25M238,1631.12H254.8M1948.05,1631.12H1931.25M238,1458.4H254.8M1948.05,1458.4H1931.25" stroke="#262626" stroke-width="3.0" fill="none"/>
<line transform="scale(1.25,1)" x1="380.56" y1="1458.4" x2="383.52" y2="2667.45" stroke="#0072BD" stroke-width="3.0" stroke-dasharray="28.9 16.0" stroke-dashoffset="38.9"/>
<line transform="scale(1.25,1)" x1="405.60" y1="1458.4" x2="408.64" y2="2667.45" stroke="#0072BD" stroke-width="3.0" stroke-dasharray="28.9 16.0" stroke-dashoffset="38.9"/>
<line transform="scale(1.25,1)" x1="446.48" y1="1458.4" x2="449.52" y2="2667.45" stroke="#0072BD" stroke-width="3.0" stroke-dasharray="28.9 16.0" stroke-dashoffset="38.9"/>
<line transform="scale(1.25,1)" x1="512.88" y1="1458.4" x2="515.76" y2="2667.45" stroke="#0072BD" stroke-width="3.0" stroke-dasharray="28.9 16.0" stroke-dashoffset="38.9"/>
<line transform="scale(1.25,1)" x1="773.84" y1="1458.4" x2="776.64" y2="2667.45" stroke="#0072BD" stroke-width="3.0" stroke-dasharray="28.9 16.0" stroke-dashoffset="38.9"/>
<line transform="scale(1.25,1)" x1="943.92" y1="1458.4" x2="947.04" y2="2667.45" stroke="#0072BD" stroke-width="3.0" stroke-dasharray="28.9 16.0" stroke-dashoffset="38.9"/>
<line transform="scale(1.25,1)" x1="1054.24" y1="1458.4" x2="1057.12" y2="2667.45" stroke="#0072BD" stroke-width="3.0" stroke-dasharray="28.9 16.0" stroke-dashoffset="40.3"/>
<line transform="scale(1.25,1)" x1="1107.44" y1="1458.4" x2="1110.64" y2="2667.45" stroke="#0072BD" stroke-width="3.0" stroke-dasharray="28.9 16.0" stroke-dashoffset="37.4"/>
<line transform="scale(1.25,1)" x1="1126.32" y1="1458.4" x2="1129.52" y2="2667.45" stroke="#0072BD" stroke-width="3.0" stroke-dasharray="28.9 16.0" stroke-dashoffset="37.4"/>
<line transform="scale(1.25,1)" x1="1157.76" y1="1458.4" x2="1160.96" y2="2667.45" stroke="#0072BD" stroke-width="3.0" stroke-dasharray="28.9 16.0" stroke-dashoffset="40.3"/>
<g fill="#262626">
<text transform="translate(215.25,2688.44) scale(1.0880,1)" font-size="56.90" text-anchor="end">30</text>
<text transform="translate(215.25,2515.72) scale(1.0880,1)" font-size="56.90" text-anchor="end">40</text>
<text transform="translate(215.25,2343) scale(1.0880,1)" font-size="56.90" text-anchor="end">50</text>
<text transform="translate(215.25,2170.28) scale(1.0880,1)" font-size="56.90" text-anchor="end">60</text>
<text transform="translate(215.25,1997.55) scale(1.0880,1)" font-size="56.90" text-anchor="end">70</text>
<text transform="translate(215.25,1824.83) scale(1.0880,1)" font-size="56.90" text-anchor="end">80</text>
<text transform="translate(215.25,1652.11) scale(1.0880,1)" font-size="56.90" text-anchor="end">90</text>
<text transform="translate(215.25,1479.39) scale(1.0880,1)" font-size="56.90" text-anchor="end">100</text>
<text transform="translate(236.6,2741.8) scale(1.0880,1)" font-size="56.90" text-anchor="middle">-1</text>
<text transform="translate(599.1,2741.8) scale(1.0880,1)" font-size="56.90" text-anchor="middle">-0.5</text>
<text transform="translate(961.6,2741.8) scale(1.0880,1)" font-size="56.90" text-anchor="middle">0</text>
<text transform="translate(1324.1,2741.8) scale(1.0880,1)" font-size="56.90" text-anchor="middle">0.5</text>
<text transform="translate(1686.6,2741.8) scale(1.0880,1)" font-size="56.90" text-anchor="middle">1</text>
<text transform="translate(89.19,2179) rotate(-90) scale(0.8926,1)" font-size="70.03">Mag(dB)</text>
<text transform="translate(913.18,2815.14) scale(1.1856,1)" font-size="59.00">Doppler(Hz)</text>
</g>
<rect x="1538.4" y="1459" width="409.5" height="439" fill="#fff" stroke="#262626" stroke-width="3.0"/>
<line x1="1553.8" y1="1494.1" x2="1710.1" y2="1494.1" stroke="#000" stroke-width="3"/>
<text transform="translate(1721.85,1513.2) scale(1.1200,1)" font-size="51.00" fill="#000">Data</text>
<text transform="translate(1721.85,1574.47) scale(1.1200,1)" font-size="51.00" fill="#000">Proposed</text>
<g transform="translate(1632.7,1556.97)"><ellipse cx="0" cy="0" rx="10.2" ry="8.4" fill="none" stroke="#00FF00" stroke-width="3.5"/></g>
<text transform="translate(1721.85,1635.74) scale(1.1200,1)" font-size="51.00" fill="#000">Log-t</text>
<g transform="translate(1632.7,1618.24)"><polygon points="0,-11.4 9.8,-0.3 0,10.8 -9.8,-0.3" fill="none" stroke="#FF0000" stroke-width="3.4" stroke-linejoin="miter"/></g>
<text transform="translate(1721.16,1697.01) scale(1.1200,1)" font-size="51.00" fill="#000">CA</text>
<g transform="translate(1632.7,1679.51)"><path d="M-12.6,0H12.6M0,-10.4V10.4M-7.0,-5.9L7.0,5.9M-7.0,5.9L7.0,-5.9" fill="none" stroke="#00FFFF" stroke-width="2.9"/></g>
<text transform="translate(1721.16,1758.28) scale(1.1200,1)" font-size="51.00" fill="#000">OSGO</text>
<g transform="translate(1632.7,1740.78)"><polygon points="-12.0,-6.4 12.0,-6.4 0,11" fill="none" stroke="#FF00FF" stroke-width="3.2" stroke-linejoin="miter" stroke-miterlimit="10"/></g>
<text transform="translate(1721.16,1819.55) scale(1.1200,1)" font-size="51.00" fill="#000">OS</text>
<g transform="translate(1632.7,1802.05)"><path d="M0.00,-11.80 L3.82,-3.45 L14.36,-2.96 L6.18,2.70 L8.88,11.36 L0.00,6.50 L-8.88,11.36 L-6.18,2.70 L-14.36,-2.96 L-3.82,-3.45Z M0.00,-3.10 L1.34,-0.74 L4.45,-0.41 L2.17,1.39 L2.75,3.96 L0.00,2.70 L-2.75,3.96 L-2.17,1.39 L-4.45,-0.41 L-1.34,-0.74Z" fill="#000" fill-rule="evenodd"/></g>
<text transform="translate(1721.85,1880.82) scale(1.1200,1)" font-size="51.00" fill="#000">MLH</text>
<g transform="translate(1632.7,1863.32)"><path d="M0.00,-11.20 L3.88,-5.60 L11.64,-5.60 L7.76,0.00 L11.64,5.60 L3.88,5.60 L0.00,11.20 L-3.88,5.60 L-11.64,5.60 L-7.76,0.00 L-11.64,-5.60 L-3.88,-5.60Z M0.00,-5.60 L1.94,-2.80 L5.82,-2.80 L3.88,0.00 L5.82,2.80 L1.94,2.80 L0.00,5.60 L-1.94,2.80 L-5.82,2.80 L-3.88,0.00 L-5.82,-2.80 L-1.94,-2.80Z" fill="#0000FF" fill-rule="evenodd"/></g>
<text transform="translate(584.4,2920.51) scale(1.0360,1)" font-size="87.79" fill="#000">(<tspan font-weight="bold">b</tspan>) Second frame data.</text>
<path transform="scale(1.22,1)" d="M194.18,3664.4 L196.72,3772.7 L199.67,3844.9 L210.57,3800.4 L213.52,3929.1 L216.48,4073.5 L221.39,3765.5 L227.30,3760.7 L233.28,3924.3 L239.18,3719.8 L245.08,3687.3 L250.98,3680.0 L256.31,3680.0 L261.89,3647.6 L267.79,3624.7 L273.28,3745.0 L278.61,3700.5 L284.51,3681.3 L287.46,3796.8 L290.08,3941.2 L295.98,3796.8 L301.89,3663.2 L307.21,3695.7 L313.11,3705.3 L318.69,3690.9 L324.02,3628.3 L329.92,3595.8 L335.82,3631.9 L341.15,3607.8 L347.05,3597.0 L352.95,3601.8 L358.93,3609.0 L363.44,3683.7 L369.92,3702.9 L375.90,3554.2 L380.74,3437.7 L386.39,3364.4 L392.70,3374.8 L397.87,3477.3 L401.15,3309.6 L408.36,3141.9 L413.77,3211.8 L416.97,3379.5 L419.84,3589.1 L426.56,3631.1 L431.31,3691.6 L436.07,3496.0 L442.79,3272.4 L448.44,3293.3 L454.18,3572.8 L459.59,3512.3 L462.30,3628.3 L465.33,3735.4 L471.23,3599.4 L474.18,3688.5 L477.13,3770.3 L482.05,3652.4 L487.95,3621.1 L492.95,3712.5 L499.43,3778.7 L511.23,3729.4 L513.61,3616.3 L515.66,3542.6 L521.97,3386.5 L526.72,3496.0 L532.46,3635.7 L544.84,3675.2 L550.08,3623.5 L556.07,3601.8 L558.61,3760.7 L561.97,3938.8 L566.89,3813.6 L573.77,3808.8 L578.69,3675.2 L584.67,3683.7 L589.59,3796.8 L595.66,3841.3 L601.97,3688.5 L606.97,3633.1 L612.87,3628.3 L618.77,3659.6 L624.10,3781.1 L629.59,3676.4 L635.57,3645.2 L641.07,3610.3 L646.97,3628.3 L652.30,3753.5 L657.87,3837.7 L663.52,3779.9 L669.10,4033.8 L675.00,3717.4 L680.90,3676.4 L686.39,3784.7 L691.72,3640.3 L697.70,3581.4 L703.61,3592.2 L709.10,3688.5 L714.43,3915.9 L720.33,3789.6 L725.90,3761.9 L731.80,3775.1 L737.70,3772.7 L743.03,3836.5 L748.93,3727.0 L754.26,3717.4 L759.84,3595.8 L765.74,3628.3 L770.66,3736.6 L776.56,3842.5 L786.48,3520.0 L789.18,3414.6 L794.43,3375.4 L798.36,3470.0 L804.18,3551.5 L810.16,3575.2 L810.74,3575.4 L816.23,3745.0 L822.13,3722.2 L827.46,3807.6 L839.34,3627.1 L844.26,3737.8 L850.57,3730.6 L856.07,3698.1 L861.97,3677.6 L866.97,3842.5 L872.30,3629.5 L877.79,3629.5 L883.69,3650.0 L890.25,3657.2 L895.57,3745.0 L906.97,3556.1 L913.28,3571.7 L918.85,3621.1 L923.52,3586.9 L929.51,3619.9 L935.98,3582.6 L936.97,3520.0 L941.39,3262.0 L946.80,3169.4 L951.64,3262.0 L956.72,3520.0 L959.10,3628.3 L963.61,3788.4 L969.51,3678.8 L975.00,3807.6 L980.00,3624.7 L985.90,3605.4 L991.80,3674.0 L997.70,3643.9 L1002.62,3635.5 L1009.59,3625.9 L1014.51,3601.8 L1020.41,3548.9 L1026.31,3589.8 L1031.23,3766.7 L1037.21,3604.2 L1042.70,3517.0 L1049.02,3568.1 L1053.93,3686.1 L1059.84,3606.6 L1064.75,3657.2 L1070.74,3740.2 L1074.67,3640.3 L1080.08,3498.5 L1082.21,3459.6 L1087.46,3640.3 L1092.79,3710.1 L1099.34,3737.8 L1105.25,3656.0 L1110.16,3683.7 L1116.48,3733.0 L1120.00,3640.3 L1120.41,3600.0 L1134.67,3355.0 L1139.18,3314.0 L1144.75,3402.2 L1151.48,3355.0 L1154.84,3242.3 L1157.38,3260.7 L1161.56,3293.5 L1167.46,3299.7 L1172.46,3447.3 L1178.36,3600.0 L1178.20,3621.1 L1184.18,3613.9 L1189.67,3694.5 L1195.00,3640.3 L1201.48,3618.7 L1206.89,3413.4 L1211.97,3623.5 L1218.28,3629.5 L1224.18,3637.9 L1229.10,3901.5 L1235.00,3699.3 L1240.98,3705.3 L1246.31,4102.4 L1251.80,3808.8 L1257.70,3919.5 L1263.61,3746.2 L1268.61,3813.6 L1274.51,3779.9 L1279.43,3640.3 L1286.31,3635.5 L1291.23,3772.7 L1297.21,3816.0 L1302.54,3965.2 L1309.02,4021.8 L1314.51,3808.8 L1320.49,3711.3 L1326.39,3731.8 L1330.74,3887.0 L1337.05,3899.1 L1342.54,3722.2 L1348.44,3731.8 L1353.36,3760.7 L1359.34,3850.9 L1365.25,3688.5 L1371.15,3802.8 L1377.05,3681.3 L1381.97,3648.8 L1387.54,3683.7" fill="none" stroke="#000" stroke-width="2.95" stroke-linejoin="miter" stroke-miterlimit="4"/>
<g transform="translate(471.8,3004.34)"><ellipse cx="0" cy="0" rx="10.2" ry="8.4" fill="none" stroke="#00FF00" stroke-width="3.5"/></g>
<g transform="translate(471.8,3099.7)"><polygon points="-12.0,-6.4 12.0,-6.4 0,11" fill="none" stroke="#FF00FF" stroke-width="3.2" stroke-linejoin="miter" stroke-miterlimit="10"/></g>
<g transform="translate(471.8,3131.49)"><path d="M0.00,-11.80 L3.82,-3.45 L14.36,-2.96 L6.18,2.70 L8.88,11.36 L0.00,6.50 L-8.88,11.36 L-6.18,2.70 L-14.36,-2.96 L-3.82,-3.45Z M0.00,-3.10 L1.34,-0.74 L4.45,-0.41 L2.17,1.39 L2.75,3.96 L0.00,2.70 L-2.75,3.96 L-2.17,1.39 L-4.45,-0.41 L-1.34,-0.74Z" fill="#000" fill-rule="evenodd"/></g>
<g transform="translate(471.8,3163.27)"><path d="M0.00,-11.20 L3.88,-5.60 L11.64,-5.60 L7.76,0.00 L11.64,5.60 L3.88,5.60 L0.00,11.20 L-3.88,5.60 L-11.64,5.60 L-7.76,0.00 L-11.64,-5.60 L-3.88,-5.60Z M0.00,-5.60 L1.94,-2.80 L5.82,-2.80 L3.88,0.00 L5.82,2.80 L1.94,2.80 L0.00,5.60 L-1.94,2.80 L-5.82,2.80 L-3.88,0.00 L-5.82,-2.80 L-1.94,-2.80Z" fill="#0000FF" fill-rule="evenodd"/></g>
<g transform="translate(499.6,3004.34)"><ellipse cx="0" cy="0" rx="10.2" ry="8.4" fill="none" stroke="#00FF00" stroke-width="3.5"/></g>
<g transform="translate(499.6,3036.13)"><polygon points="0,-11.4 9.8,-0.3 0,10.8 -9.8,-0.3" fill="none" stroke="#FF0000" stroke-width="3.4" stroke-linejoin="miter"/></g>
<g transform="translate(499.6,3099.7)"><polygon points="-12.0,-6.4 12.0,-6.4 0,11" fill="none" stroke="#FF00FF" stroke-width="3.2" stroke-linejoin="miter" stroke-miterlimit="10"/></g>
<g transform="translate(499.6,3067.92)"><path d="M-12.6,0H12.6M0,-10.4V10.4M-7.0,-5.9L7.0,5.9M-7.0,5.9L7.0,-5.9" fill="none" stroke="#00FFFF" stroke-width="2.9"/></g>
<g transform="translate(499.6,3131.49)"><path d="M0.00,-11.80 L3.82,-3.45 L14.36,-2.96 L6.18,2.70 L8.88,11.36 L0.00,6.50 L-8.88,11.36 L-6.18,2.70 L-14.36,-2.96 L-3.82,-3.45Z M0.00,-3.10 L1.34,-0.74 L4.45,-0.41 L2.17,1.39 L2.75,3.96 L0.00,2.70 L-2.75,3.96 L-2.17,1.39 L-4.45,-0.41 L-1.34,-0.74Z" fill="#000" fill-rule="evenodd"/></g>
<g transform="translate(499.6,3163.27)"><path d="M0.00,-11.20 L3.88,-5.60 L11.64,-5.60 L7.76,0.00 L11.64,5.60 L3.88,5.60 L0.00,11.20 L-3.88,5.60 L-11.64,5.60 L-7.76,0.00 L-11.64,-5.60 L-3.88,-5.60Z M0.00,-5.60 L1.94,-2.80 L5.82,-2.80 L3.88,0.00 L5.82,2.80 L1.94,2.80 L0.00,5.60 L-1.94,2.80 L-5.82,2.80 L-3.88,0.00 L-5.82,-2.80 L-1.94,-2.80Z" fill="#0000FF" fill-rule="evenodd"/></g>
<g transform="translate(540.7,3004.34)"><ellipse cx="0" cy="0" rx="10.2" ry="8.4" fill="none" stroke="#00FF00" stroke-width="3.5"/></g>
<g transform="translate(540.7,3036.13)"><polygon points="0,-11.4 9.8,-0.3 0,10.8 -9.8,-0.3" fill="none" stroke="#FF0000" stroke-width="3.4" stroke-linejoin="miter"/></g>
<g transform="translate(540.7,3099.7)"><polygon points="-12.0,-6.4 12.0,-6.4 0,11" fill="none" stroke="#FF00FF" stroke-width="3.2" stroke-linejoin="miter" stroke-miterlimit="10"/></g>
<g transform="translate(540.7,3067.92)"><path d="M-12.6,0H12.6M0,-10.4V10.4M-7.0,-5.9L7.0,5.9M-7.0,5.9L7.0,-5.9" fill="none" stroke="#00FFFF" stroke-width="2.9"/></g>
<g transform="translate(540.7,3131.49)"><path d="M0.00,-11.80 L3.82,-3.45 L14.36,-2.96 L6.18,2.70 L8.88,11.36 L0.00,6.50 L-8.88,11.36 L-6.18,2.70 L-14.36,-2.96 L-3.82,-3.45Z M0.00,-3.10 L1.34,-0.74 L4.45,-0.41 L2.17,1.39 L2.75,3.96 L0.00,2.70 L-2.75,3.96 L-2.17,1.39 L-4.45,-0.41 L-1.34,-0.74Z" fill="#000" fill-rule="evenodd"/></g>
<g transform="translate(540.7,3163.27)"><path d="M0.00,-11.20 L3.88,-5.60 L11.64,-5.60 L7.76,0.00 L11.64,5.60 L3.88,5.60 L0.00,11.20 L-3.88,5.60 L-11.64,5.60 L-7.76,0.00 L-11.64,-5.60 L-3.88,-5.60Z M0.00,-5.60 L1.94,-2.80 L5.82,-2.80 L3.88,0.00 L5.82,2.80 L1.94,2.80 L0.00,5.60 L-1.94,2.80 L-5.82,2.80 L-3.88,0.00 L-5.82,-2.80 L-1.94,-2.80Z" fill="#0000FF" fill-rule="evenodd"/></g>
<g transform="translate(637,3004.34)"><ellipse cx="0" cy="0" rx="10.2" ry="8.4" fill="none" stroke="#00FF00" stroke-width="3.5"/></g>
<g transform="translate(637,3036.13)"><polygon points="0,-11.4 9.8,-0.3 0,10.8 -9.8,-0.3" fill="none" stroke="#FF0000" stroke-width="3.4" stroke-linejoin="miter"/></g>
<g transform="translate(637,3099.7)"><polygon points="-12.0,-6.4 12.0,-6.4 0,11" fill="none" stroke="#FF00FF" stroke-width="3.2" stroke-linejoin="miter" stroke-miterlimit="10"/></g>
<g transform="translate(637,3131.49)"><path d="M0.00,-11.80 L3.82,-3.45 L14.36,-2.96 L6.18,2.70 L8.88,11.36 L0.00,6.50 L-8.88,11.36 L-6.18,2.70 L-14.36,-2.96 L-3.82,-3.45Z M0.00,-3.10 L1.34,-0.74 L4.45,-0.41 L2.17,1.39 L2.75,3.96 L0.00,2.70 L-2.75,3.96 L-2.17,1.39 L-4.45,-0.41 L-1.34,-0.74Z" fill="#000" fill-rule="evenodd"/></g>
<g transform="translate(968.3,3004.34)"><ellipse cx="0" cy="0" rx="10.2" ry="8.4" fill="none" stroke="#00FF00" stroke-width="3.5"/></g>
<g transform="translate(968.3,3036.13)"><polygon points="0,-11.4 9.8,-0.3 0,10.8 -9.8,-0.3" fill="none" stroke="#FF0000" stroke-width="3.4" stroke-linejoin="miter"/></g>
<g transform="translate(968.3,3099.7)"><polygon points="-12.0,-6.4 12.0,-6.4 0,11" fill="none" stroke="#FF00FF" stroke-width="3.2" stroke-linejoin="miter" stroke-miterlimit="10"/></g>
<g transform="translate(968.3,3067.92)"><path d="M-12.6,0H12.6M0,-10.4V10.4M-7.0,-5.9L7.0,5.9M-7.0,5.9L7.0,-5.9" fill="none" stroke="#00FFFF" stroke-width="2.9"/></g>
<g transform="translate(968.3,3131.49)"><path d="M0.00,-11.80 L3.82,-3.45 L14.36,-2.96 L6.18,2.70 L8.88,11.36 L0.00,6.50 L-8.88,11.36 L-6.18,2.70 L-14.36,-2.96 L-3.82,-3.45Z M0.00,-3.10 L1.34,-0.74 L4.45,-0.41 L2.17,1.39 L2.75,3.96 L0.00,2.70 L-2.75,3.96 L-2.17,1.39 L-4.45,-0.41 L-1.34,-0.74Z" fill="#000" fill-rule="evenodd"/></g>
<g transform="translate(968.3,3163.27)"><path d="M0.00,-11.20 L3.88,-5.60 L11.64,-5.60 L7.76,0.00 L11.64,5.60 L3.88,5.60 L0.00,11.20 L-3.88,5.60 L-11.64,5.60 L-7.76,0.00 L-11.64,-5.60 L-3.88,-5.60Z M0.00,-5.60 L1.94,-2.80 L5.82,-2.80 L3.88,0.00 L5.82,2.80 L1.94,2.80 L0.00,5.60 L-1.94,2.80 L-5.82,2.80 L-3.88,0.00 L-5.82,-2.80 L-1.94,-2.80Z" fill="#0000FF" fill-rule="evenodd"/></g>
<g transform="translate(1155.1,3004.34)"><ellipse cx="0" cy="0" rx="10.2" ry="8.4" fill="none" stroke="#00FF00" stroke-width="3.5"/></g>
<g transform="translate(1155.1,3036.13)"><polygon points="0,-11.4 9.8,-0.3 0,10.8 -9.8,-0.3" fill="none" stroke="#FF0000" stroke-width="3.4" stroke-linejoin="miter"/></g>
<g transform="translate(1155.1,3099.7)"><polygon points="-12.0,-6.4 12.0,-6.4 0,11" fill="none" stroke="#FF00FF" stroke-width="3.2" stroke-linejoin="miter" stroke-miterlimit="10"/></g>
<g transform="translate(1155.1,3067.92)"><path d="M-12.6,0H12.6M0,-10.4V10.4M-7.0,-5.9L7.0,5.9M-7.0,5.9L7.0,-5.9" fill="none" stroke="#00FFFF" stroke-width="2.9"/></g>
<g transform="translate(1155.1,3131.49)"><path d="M0.00,-11.80 L3.82,-3.45 L14.36,-2.96 L6.18,2.70 L8.88,11.36 L0.00,6.50 L-8.88,11.36 L-6.18,2.70 L-14.36,-2.96 L-3.82,-3.45Z M0.00,-3.10 L1.34,-0.74 L4.45,-0.41 L2.17,1.39 L2.75,3.96 L0.00,2.70 L-2.75,3.96 L-2.17,1.39 L-4.45,-0.41 L-1.34,-0.74Z" fill="#000" fill-rule="evenodd"/></g>
<g transform="translate(1155.1,3163.27)"><path d="M0.00,-11.20 L3.88,-5.60 L11.64,-5.60 L7.76,0.00 L11.64,5.60 L3.88,5.60 L0.00,11.20 L-3.88,5.60 L-11.64,5.60 L-7.76,0.00 L-11.64,-5.60 L-3.88,-5.60Z M0.00,-5.60 L1.94,-2.80 L5.82,-2.80 L3.88,0.00 L5.82,2.80 L1.94,2.80 L0.00,5.60 L-1.94,2.80 L-5.82,2.80 L-3.88,0.00 L-5.82,-2.80 L-1.94,-2.80Z" fill="#0000FF" fill-rule="evenodd"/></g>
<g transform="translate(1320.3,3004.34)"><ellipse cx="0" cy="0" rx="10.2" ry="8.4" fill="none" stroke="#00FF00" stroke-width="3.5"/></g>
<g transform="translate(1388.9,3004.34)"><ellipse cx="0" cy="0" rx="10.2" ry="8.4" fill="none" stroke="#00FF00" stroke-width="3.5"/></g>
<g transform="translate(1388.9,3099.7)"><polygon points="-12.0,-6.4 12.0,-6.4 0,11" fill="none" stroke="#FF00FF" stroke-width="3.2" stroke-linejoin="miter" stroke-miterlimit="10"/></g>
<g transform="translate(1388.9,3131.49)"><path d="M0.00,-11.80 L3.82,-3.45 L14.36,-2.96 L6.18,2.70 L8.88,11.36 L0.00,6.50 L-8.88,11.36 L-6.18,2.70 L-14.36,-2.96 L-3.82,-3.45Z M0.00,-3.10 L1.34,-0.74 L4.45,-0.41 L2.17,1.39 L2.75,3.96 L0.00,2.70 L-2.75,3.96 L-2.17,1.39 L-4.45,-0.41 L-1.34,-0.74Z" fill="#000" fill-rule="evenodd"/></g>
<g transform="translate(1410.9,3004.34)"><ellipse cx="0" cy="0" rx="10.2" ry="8.4" fill="none" stroke="#00FF00" stroke-width="3.5"/></g>
<g transform="translate(1410.9,3036.13)"><polygon points="0,-11.4 9.8,-0.3 0,10.8 -9.8,-0.3" fill="none" stroke="#FF0000" stroke-width="3.4" stroke-linejoin="miter"/></g>
<g transform="translate(1410.9,3099.7)"><polygon points="-12.0,-6.4 12.0,-6.4 0,11" fill="none" stroke="#FF00FF" stroke-width="3.2" stroke-linejoin="miter" stroke-miterlimit="10"/></g>
<g transform="translate(1410.9,3067.92)"><path d="M-12.6,0H12.6M0,-10.4V10.4M-7.0,-5.9L7.0,5.9M-7.0,5.9L7.0,-5.9" fill="none" stroke="#00FFFF" stroke-width="2.9"/></g>
<g transform="translate(1410.9,3131.49)"><path d="M0.00,-11.80 L3.82,-3.45 L14.36,-2.96 L6.18,2.70 L8.88,11.36 L0.00,6.50 L-8.88,11.36 L-6.18,2.70 L-14.36,-2.96 L-3.82,-3.45Z M0.00,-3.10 L1.34,-0.74 L4.45,-0.41 L2.17,1.39 L2.75,3.96 L0.00,2.70 L-2.75,3.96 L-2.17,1.39 L-4.45,-0.41 L-1.34,-0.74Z" fill="#000" fill-rule="evenodd"/></g>
<g transform="translate(1410.9,3163.27)"><path d="M0.00,-11.20 L3.88,-5.60 L11.64,-5.60 L7.76,0.00 L11.64,5.60 L3.88,5.60 L0.00,11.20 L-3.88,5.60 L-11.64,5.60 L-7.76,0.00 L-11.64,-5.60 L-3.88,-5.60Z M0.00,-5.60 L1.94,-2.80 L5.82,-2.80 L3.88,0.00 L5.82,2.80 L1.94,2.80 L0.00,5.60 L-1.94,2.80 L-5.82,2.80 L-3.88,0.00 L-5.82,-2.80 L-1.94,-2.80Z" fill="#0000FF" fill-rule="evenodd"/></g>
<g transform="translate(1472.2,3004.34)"><ellipse cx="0" cy="0" rx="10.2" ry="8.4" fill="none" stroke="#00FF00" stroke-width="3.5"/></g>
<g transform="translate(1472.2,3067.92)"><path d="M-12.6,0H12.6M0,-10.4V10.4M-7.0,-5.9L7.0,5.9M-7.0,5.9L7.0,-5.9" fill="none" stroke="#00FFFF" stroke-width="2.9"/></g>
<g transform="translate(1472.2,3099.7)"><polygon points="-12.0,-6.4 12.0,-6.4 0,11" fill="none" stroke="#FF00FF" stroke-width="3.2" stroke-linejoin="miter" stroke-miterlimit="10"/></g>
<g transform="translate(1472.2,3131.49)"><path d="M0.00,-11.80 L3.82,-3.45 L14.36,-2.96 L6.18,2.70 L8.88,11.36 L0.00,6.50 L-8.88,11.36 L-6.18,2.70 L-14.36,-2.96 L-3.82,-3.45Z M0.00,-3.10 L1.34,-0.74 L4.45,-0.41 L2.17,1.39 L2.75,3.96 L0.00,2.70 L-2.75,3.96 L-2.17,1.39 L-4.45,-0.41 L-1.34,-0.74Z" fill="#000" fill-rule="evenodd"/></g>
<rect x="230.05" y="2988.45" width="1725.45" height="1271.45" fill="none" stroke="#262626" stroke-width="3.0"/>
<path d="M230.1,4259.9V4241.9M230.1,2988.45V3006.45M595.95,4259.9V4241.9M595.95,2988.45V3006.45M961.8,4259.9V4241.9M961.8,2988.45V3006.45M1327.65,4259.9V4241.9M1327.65,2988.45V3006.45M1693.5,4259.9V4241.9M1693.5,2988.45V3006.45M230.05,4259.9H246.45M1955.5,4259.9H1939.1M230.05,4100.97H246.45M1955.5,4100.97H1939.1M230.05,3942.04H246.45M1955.5,3942.04H1939.1M230.05,3783.11H246.45M1955.5,3783.11H1939.1M230.05,3624.17H246.45M1955.5,3624.17H1939.1M230.05,3465.24H246.45M1955.5,3465.24H1939.1M230.05,3306.31H246.45M1955.5,3306.31H1939.1M230.05,3147.38H246.45M1955.5,3147.38H1939.1M230.05,2988.45H246.45M1955.5,2988.45H1939.1" stroke="#262626" stroke-width="3.0" fill="none"/>
<line transform="scale(1.25,1)" x1="378.64" y1="2988.45" x2="381.44" y2="4259.9" stroke="#0072BD" stroke-width="3.0" stroke-dasharray="30.6 16.7" stroke-dashoffset="42.8"/>
<line transform="scale(1.25,1)" x1="400.80" y1="2988.45" x2="403.84" y2="4259.9" stroke="#0072BD" stroke-width="3.0" stroke-dasharray="30.6 16.7" stroke-dashoffset="42.8"/>
<line transform="scale(1.25,1)" x1="432.56" y1="2988.45" x2="435.52" y2="4259.9" stroke="#0072BD" stroke-width="3.0" stroke-dasharray="30.6 16.7" stroke-dashoffset="42.8"/>
<line transform="scale(1.25,1)" x1="508.96" y1="2988.45" x2="512.00" y2="4259.9" stroke="#0072BD" stroke-width="3.0" stroke-dasharray="30.6 16.7" stroke-dashoffset="42.8"/>
<line transform="scale(1.25,1)" x1="772.80" y1="2988.45" x2="775.76" y2="4259.9" stroke="#0072BD" stroke-width="3.0" stroke-dasharray="30.6 16.7" stroke-dashoffset="42.8"/>
<line transform="scale(1.25,1)" x1="924.96" y1="2988.45" x2="928.16" y2="4259.9" stroke="#0072BD" stroke-width="3.0" stroke-dasharray="30.6 16.7" stroke-dashoffset="42.8"/>
<line transform="scale(1.25,1)" x1="1055.52" y1="2988.45" x2="1058.40" y2="4259.9" stroke="#0072BD" stroke-width="3.0" stroke-dasharray="30.6 16.7" stroke-dashoffset="35.5"/>
<line transform="scale(1.25,1)" x1="1109.44" y1="2988.45" x2="1112.56" y2="4259.9" stroke="#0072BD" stroke-width="3.0" stroke-dasharray="30.6 16.7" stroke-dashoffset="47.3"/>
<line transform="scale(1.25,1)" x1="1128.72" y1="2988.45" x2="1131.36" y2="4259.9" stroke="#0072BD" stroke-width="3.0" stroke-dasharray="30.6 16.7" stroke-dashoffset="42.8"/>
<line transform="scale(1.25,1)" x1="1176.32" y1="2988.45" x2="1179.20" y2="4259.9" stroke="#0072BD" stroke-width="3.0" stroke-dasharray="30.6 16.7" stroke-dashoffset="42.8"/>
<g fill="#262626">
<text transform="translate(206.56,4282.47) scale(1.0300,1)" font-size="60.20" text-anchor="end">20</text>
<text transform="translate(206.56,4123.54) scale(1.0300,1)" font-size="60.20" text-anchor="end">30</text>
<text transform="translate(206.56,3964.61) scale(1.0300,1)" font-size="60.20" text-anchor="end">40</text>
<text transform="translate(206.56,3805.68) scale(1.0300,1)" font-size="60.20" text-anchor="end">50</text>
<text transform="translate(206.56,3646.74) scale(1.0300,1)" font-size="60.20" text-anchor="end">60</text>
<text transform="translate(206.56,3487.81) scale(1.0300,1)" font-size="60.20" text-anchor="end">70</text>
<text transform="translate(206.56,3328.88) scale(1.0300,1)" font-size="60.20" text-anchor="end">80</text>
<text transform="translate(206.56,3169.95) scale(1.0300,1)" font-size="60.20" text-anchor="end">90</text>
<text transform="translate(206.56,3011.02) scale(1.0300,1)" font-size="60.20" text-anchor="end">100</text>
<text transform="translate(227.7,4338.1) scale(1.0300,1)" font-size="60.20" text-anchor="middle">-1</text>
<text transform="translate(593.55,4338.1) scale(1.0300,1)" font-size="60.20" text-anchor="middle">-0.5</text>
<text transform="translate(959.4,4338.1) scale(1.0300,1)" font-size="60.20" text-anchor="middle">0</text>
<text transform="translate(1325.25,4338.1) scale(1.0300,1)" font-size="60.20" text-anchor="middle">0.5</text>
<text transform="translate(1691.1,4338.1) scale(1.0300,1)" font-size="60.20" text-anchor="middle">1</text>
<text transform="translate(78.96,3744.79) rotate(-90) scale(0.9372,1)" font-size="70.14">Mag(dB)</text>
<text transform="translate(912.17,4415.88) scale(1.1075,1)" font-size="63.52">Doppler(Hz)</text>
</g>
<rect x="1538.5" y="2988.5" width="418" height="463" fill="#fff" stroke="#262626" stroke-width="3.0"/>
<line x1="1555.2" y1="3027.3" x2="1714.2" y2="3027.3" stroke="#000" stroke-width="3"/>
<text transform="translate(1726.05,3045.9) scale(1.0300,1)" font-size="55.50" fill="#000">Data</text>
<text transform="translate(1726.05,3110.33) scale(1.0300,1)" font-size="55.50" fill="#000">Proposed</text>
<g transform="translate(1634.7,3091.83)"><ellipse cx="0" cy="0" rx="10.2" ry="8.4" fill="none" stroke="#00FF00" stroke-width="3.5"/></g>
<text transform="translate(1726.05,3174.76) scale(1.0300,1)" font-size="55.50" fill="#000">Log-t</text>
<g transform="translate(1634.7,3156.26)"><polygon points="0,-11.4 9.8,-0.3 0,10.8 -9.8,-0.3" fill="none" stroke="#FF0000" stroke-width="3.4" stroke-linejoin="miter"/></g>
<text transform="translate(1725.36,3239.19) scale(1.0300,1)" font-size="55.50" fill="#000">CA</text>
<g transform="translate(1634.7,3220.69)"><path d="M-12.6,0H12.6M0,-10.4V10.4M-7.0,-5.9L7.0,5.9M-7.0,5.9L7.0,-5.9" fill="none" stroke="#00FFFF" stroke-width="2.9"/></g>
<text transform="translate(1725.36,3303.62) scale(1.0300,1)" font-size="55.50" fill="#000">OSGO</text>
<g transform="translate(1634.7,3285.12)"><polygon points="-12.0,-6.4 12.0,-6.4 0,11" fill="none" stroke="#FF00FF" stroke-width="3.2" stroke-linejoin="miter" stroke-miterlimit="10"/></g>
<text transform="translate(1725.36,3368.05) scale(1.0300,1)" font-size="55.50" fill="#000">OS</text>
<g transform="translate(1634.7,3349.55)"><path d="M0.00,-11.80 L3.82,-3.45 L14.36,-2.96 L6.18,2.70 L8.88,11.36 L0.00,6.50 L-8.88,11.36 L-6.18,2.70 L-14.36,-2.96 L-3.82,-3.45Z M0.00,-3.10 L1.34,-0.74 L4.45,-0.41 L2.17,1.39 L2.75,3.96 L0.00,2.70 L-2.75,3.96 L-2.17,1.39 L-4.45,-0.41 L-1.34,-0.74Z" fill="#000" fill-rule="evenodd"/></g>
<text transform="translate(1726.05,3432.48) scale(1.0300,1)" font-size="55.50" fill="#000">MLH</text>
<g transform="translate(1634.7,3413.98)"><path d="M0.00,-11.20 L3.88,-5.60 L11.64,-5.60 L7.76,0.00 L11.64,5.60 L3.88,5.60 L0.00,11.20 L-3.88,5.60 L-11.64,5.60 L-7.76,0.00 L-11.64,-5.60 L-3.88,-5.60Z M0.00,-5.60 L1.94,-2.80 L5.82,-2.80 L3.88,0.00 L5.82,2.80 L1.94,2.80 L0.00,5.60 L-1.94,2.80 L-5.82,2.80 L-3.88,0.00 L-5.82,-2.80 L-1.94,-2.80Z" fill="#0000FF" fill-rule="evenodd"/></g>
<text transform="translate(620.98,4522.46) scale(1.0785,1)" font-size="84.73" fill="#000">(<tspan font-weight="bold">c</tspan>) Third frame data.</text>
</svg>
</body></html>
